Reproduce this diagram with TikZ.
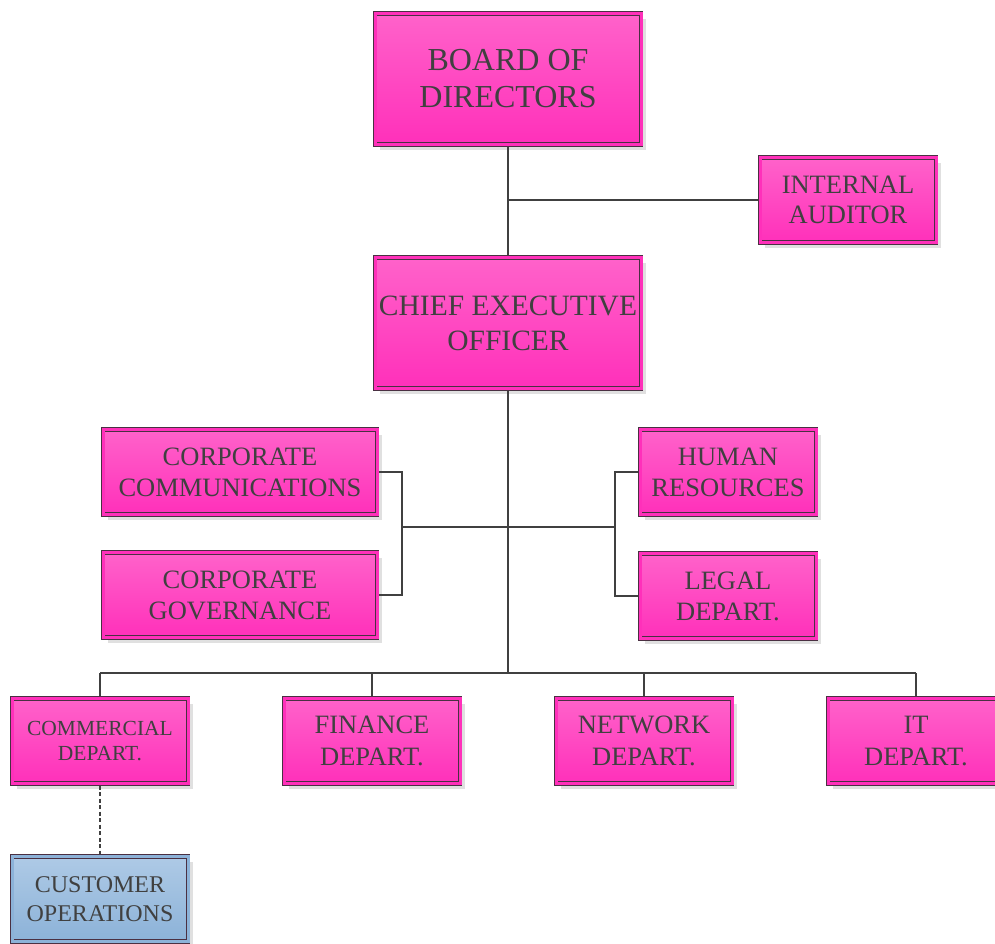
\documentclass[tikz,border=0pt]{standalone}
\usepackage{fontspec}
\setmainfont{Liberation Serif}
\usetikzlibrary{shadows, calc, positioning}
\definecolor{pinktop}{HTML}{FF62CA}
\definecolor{pinkbot}{HTML}{FF30BA}
\definecolor{bluetop}{HTML}{AECAE6}
\definecolor{bluebot}{HTML}{8CB2D8}
\definecolor{boxline}{HTML}{4A3042}
\definecolor{wire}{HTML}{404040}
\newcommand{\fsz}[2]{\fontsize{#1}{#2}\selectfont}
\tikzset{
  %department box style
  unit/.style={
    draw=boxline
    , line width=0.9pt
    , double=pinkbot
    , double distance=3pt
    , top color=pinktop
    , bottom color=pinkbot
    , text=wire
    , align=center
    , inner sep=0pt
    , outer sep=2.2pt
    , minimum width=176pt
    , minimum height=85pt
    , font=\fsz{26.5}{31}
    , drop shadow={shadow xshift=5pt, shadow yshift=-5pt, fill=black!12, opacity=1}
  },
  bigunit/.style={unit, minimum width=266pt, minimum height=131pt},
  wideunit/.style={unit, minimum width=274pt},
  opsunit/.style={unit, double=bluebot, top color=bluetop, bottom color=bluebot},
  link/.style={draw=wire, line width=2.8pt},
}

\begin{document}
\begin{tikzpicture}[x=1pt, y=-1pt]
  \useasboundingbox (0,0) rectangle (995,943);
  % top of the tree
  \node[bigunit, font=\fsz{32}{37}] (board) at (508,79) {BOARD OF\\DIRECTORS};
  \node[unit, font=\fsz{26.5}{30}] (audit) at (848,200) {INTERNAL\\AUDITOR};
  \node[bigunit, font=\fsz{29.5}{35}] (ceo) at (508,323) {CHIEF EXECUTIVE\\OFFICER};
  % staff offices
  \node[wideunit] (comms) at (240,472) {CORPORATE\\COMMUNICATIONS};
  \node[wideunit] (gov) at (240,595) {CORPORATE\\GOVERNANCE};
  \node[unit] (hr) at (728,472) {HUMAN\\RESOURCES};
  \node[unit] (legal) at (728,596) {LEGAL\\DEPART.};
  % departments
  \node[unit, font=\fsz{21.5}{25}] (comm) at (100,741) {COMMERCIAL\\DEPART.};
  \node[unit, font=\fsz{26.5}{32}] (fin) at (372,741) {FINANCE\\DEPART.};
  \node[unit, font=\fsz{26.5}{32}] (net) at (644,741) {NETWORK\\DEPART.};
  \node[unit, font=\fsz{26.5}{32}] (it) at (916,741) {IT\\DEPART.};
  \node[opsunit, font=\fsz{24}{29}] (ops) at (100,899) {CUSTOMER\\OPERATIONS};

  \coordinate (lbrk) at (402,527);
  \coordinate (rbrk) at (615,527);
  \coordinate (bus) at (508,673);

  % wiring
  \draw[link] (board.south) -- (ceo.north);
  \draw[link] (board.south |- audit.west) -- (audit.west);
  \draw[link] (ceo.south) -- (bus);
  \draw[link] (comms.east) -| (lbrk) |- (gov.east);
  \draw[link] (hr.west) -| (rbrk) |- (legal.west);
  \draw[link] (lbrk) -- (rbrk);
  \draw[link] (comm.north |- bus) -- (it.north |- bus);
  \foreach \d in {comm, fin, net, it}
    \draw[link] (\d.north |- bus) -- (\d.north);
  \draw[link, line width=2.6pt, dash pattern=on 4pt off 2.5pt] (comm.south) -- (ops.north);
\end{tikzpicture}
\end{document}
